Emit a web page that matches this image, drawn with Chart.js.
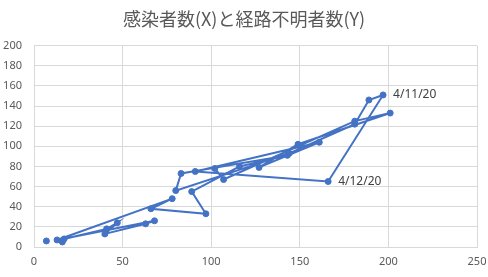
<!DOCTYPE html>
<html>
<head>
<meta charset="utf-8">
<script src="https://cdn.jsdelivr.net/npm/chart.js@4"></script>
<style>
    html, body { margin: 0; padding: 0; background: #fff; }
    #wrap { width: 488px; height: 277px; }
</style>
</head>
<body>
<div id="wrap"><canvas id="chartOne"></canvas></div>
<script>
const dates = ['3/21/20', '3/22/20', '3/23/20', '3/24/20', '3/25/20', '3/26/20', '3/27/20', '3/28/20', '3/29/20', '3/30/20',
    '3/31/20', '4/1/20', '4/2/20', '4/3/20', '4/4/20', '4/5/20', '4/6/20', '4/7/20', '4/8/20', '4/9/20',
    '4/10/20', '4/11/20', '4/12/20', '4/13/20', '4/14/20', '4/15/20', '4/16/20', '4/17/20', '4/18/20', '4/19/20', '4/20/20'];
const infected = [7, null, 16, 17, 41, 47, 40, 63, 68, 13,
    78, 66, 97, 89, 116, 143, 83, 80, 144, 181,
    189, 197, 166, 91, 161, 127, 149, 201, 181, 107, 102];
const unknownRoute = [6, null, 5, 8, 18, 24, 13, 23, 26, 7,
    48, 38, 33, 55, 80, 91, 73, 56, 93, 122,
    146, 151, 65, 75, 104, 79, 102, 133, 125, 67, 78];
const labelledDates = ['4/11/20', '4/12/20'];
const xTicks = [0, 50, 100, 150, 200, 250];
const yTicks = [0, 20, 40, 60, 80, 100, 120, 140, 160, 180, 200];

const points = dates.map((d, i) => ({ x: infected[i], y: unknownRoute[i] }));

// writes the date next to the points picked out in labelledDates
const pointLabels = {
    id: 'pointLabels',
    afterDatasetsDraw(chart) {
        const meta = chart.getDatasetMeta(0);
        const c = chart.ctx;
        c.save();
        c.font = '12px "Noto Sans", sans-serif';
        c.fillStyle = '#404040';
        c.textAlign = 'left';
        c.textBaseline = 'middle';
        dates.forEach((d, i) => {
            if (!labelledDates.includes(d)) return;
            const el = meta.data[i];
            c.fillText(d, el.x + 10, el.y);
        });
        c.restore();
    }
};

const ctx = document.getElementById('chartOne').getContext('2d');
const myChart = new Chart(ctx, {
    type: 'scatter',
    data: {
        datasets: [
            {
                data: points,
                showLine: true,
                spanGaps: false,
                borderColor: '#4472C4',
                backgroundColor: '#4472C4',
                borderWidth: 2,
                pointRadius: 3,
                pointBorderWidth: 1,
                pointBorderColor: '#4472C4',
                pointBackgroundColor: '#4472C4'
            }
        ]
    },
    options: {
        animation: false,
        responsive: true,
        maintainAspectRatio: false,
        layout: {
            padding: 0
        },
        plugins: {
            title: {
                display: true,
                text: '感染者数(X)と経路不明者数(Y)',
                color: '#595959',
                font: { family: '"Noto Sans CJK JP", sans-serif', size: 18, weight: 'normal' },
                padding: { top: 8, bottom: 16 }
            },
            legend: { display: false },
            tooltip: { enabled: false }
        },
        scales: {
            x: {
                type: 'linear',
                min: 0,
                max: 250,
                afterBuildTicks: (scale) => { scale.ticks = xTicks.map(v => ({ value: v })); },
                afterFit: (scale) => {
                    scale.height = 30;
                    scale.paddingLeft = 0;
                    scale.paddingRight = 11;
                },
                grid: { color: '#d9d9d9', drawTicks: false },
                border: { color: '#d9d9d9' },
                ticks: {
                    color: '#595959',
                    padding: 8,
                    font: { family: '"Noto Sans", sans-serif', size: 11 }
                }
            },
            y: {
                type: 'linear',
                min: 0,
                max: 200,
                afterBuildTicks: (scale) => { scale.ticks = yTicks.map(v => ({ value: v })); },
                afterFit: (scale) => { scale.width = 34; },
                grid: { color: '#d9d9d9', drawTicks: false },
                border: { color: '#d9d9d9' },
                ticks: {
                    color: '#595959',
                    padding: 12,
                    font: { family: '"Noto Sans", sans-serif', size: 11 }
                }
            }
        }
    },
    plugins: [pointLabels]
});
</script>
</body>
</html>
